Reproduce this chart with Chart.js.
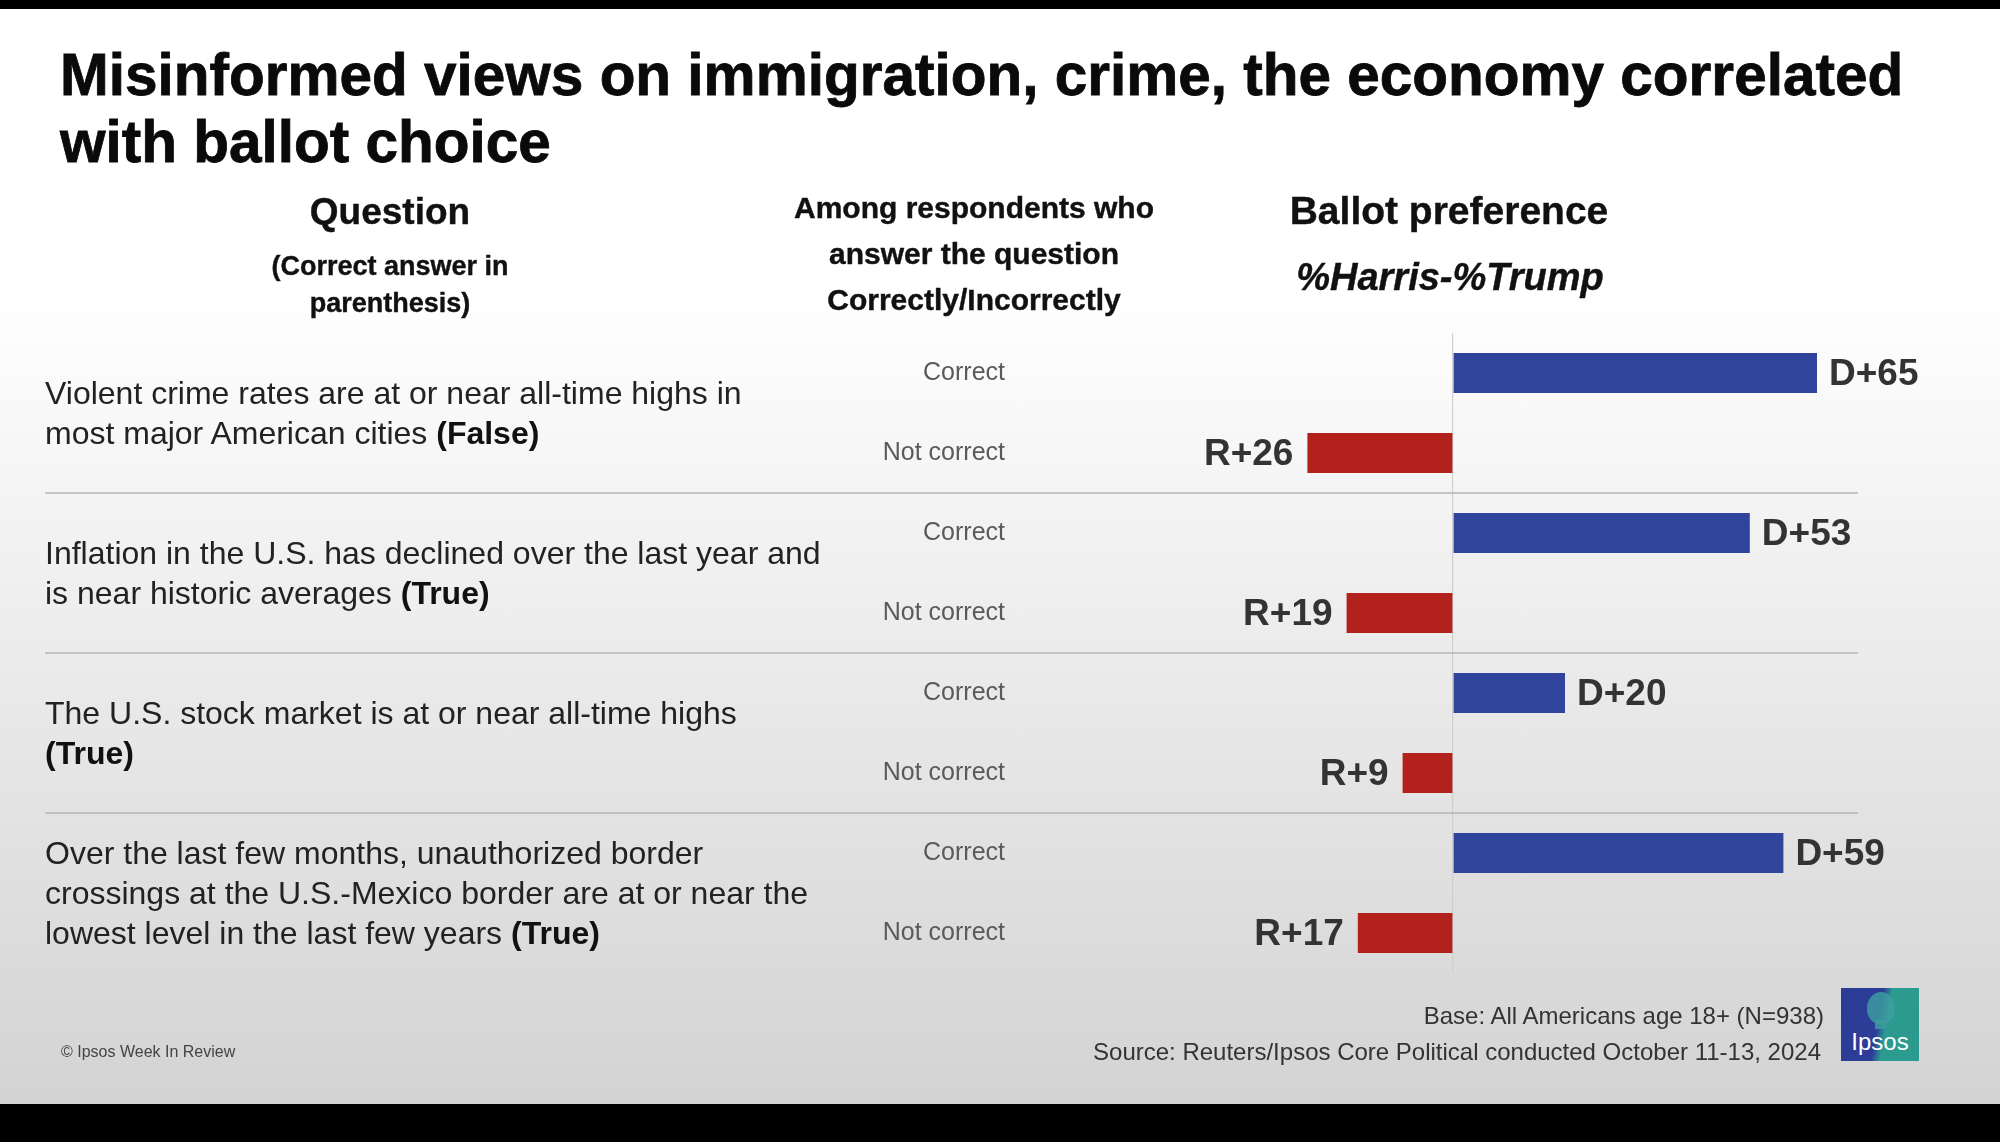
<!DOCTYPE html>
<html><head><meta charset="utf-8">
<script src="https://cdn.jsdelivr.net/npm/chart.js@4.4.0/dist/chart.umd.min.js"></script>
<style>
html,body{margin:0;padding:0;width:2000px;height:1142px;overflow:hidden;background:#000;font-family:'Liberation Sans',Arial,sans-serif;}
#panel{position:absolute;left:0;top:9px;width:2000px;height:1095px;background:linear-gradient(to bottom,#ffffff 0%,#ffffff 26%,#d3d3d3 100%);}
.t{position:absolute;white-space:nowrap;color:#111;}
.c{text-align:center;font-weight:700;-webkit-text-stroke:0.4px #111;}
.q{position:absolute;left:45px;white-space:nowrap;color:#222;font-size:32px;line-height:40px;}
.q b{color:#111;}
#logo{position:absolute;left:1841px;top:988px;width:78px;height:73px;overflow:hidden;background:linear-gradient(100deg,#2c3d98 0%,#2c3d98 47%,#2b9a8f 57%,#2b9a8f 100%);}
#logo .head{position:absolute;left:26px;top:4px;width:28px;height:32px;border-radius:50% 50% 45% 45%;background:#3d9fa0;opacity:.8;}
#logo .neck{position:absolute;left:34px;top:32px;width:11px;height:9px;background:#3d9fa0;opacity:.8;}
#logo span{position:absolute;left:0;width:78px;top:40px;text-align:center;color:#fff;font-size:24px;line-height:28px;}
</style></head><body>
<div id="panel"></div>
<canvas id="c" width="2000" height="1142" style="position:absolute;left:0;top:0;width:2000px;height:1142px"></canvas>

<div class="t" style="left:60px;top:41px;font-size:58.5px;line-height:67px;font-weight:700;color:#0a0a0a;-webkit-text-stroke:0.8px #0a0a0a;">Misinformed views on immigration, crime, the economy correlated<br>with ballot choice</div>

<div class="t c" style="left:190px;width:400px;top:189px;font-size:37px;line-height:45px;">Question</div>
<div class="t c" style="left:190px;width:400px;top:248px;font-size:27px;line-height:37px;">(Correct answer in<br>parenthesis)</div>
<div class="t c" style="left:724px;width:500px;top:185px;font-size:30px;line-height:46px;">Among respondents who<br>answer the question<br>Correctly/Incorrectly</div>
<div class="t c" style="left:1199px;width:500px;top:187px;font-size:39px;line-height:48px;">Ballot preference</div>
<div class="t c" style="left:1200px;width:500px;top:253px;font-size:38px;line-height:48px;font-style:italic;">%Harris-%Trump</div>

<div class="t" style="left:1024px;width:800px;text-align:right;top:1002px;font-size:24px;line-height:28px;color:#333;">Base: All Americans age 18+ (N=938)</div>
<div class="t" style="left:1021px;width:800px;text-align:right;top:1038px;font-size:24px;line-height:28px;color:#333;">Source: Reuters/Ipsos Core Political conducted October 11-13, 2024</div>
<div class="t" style="left:61px;top:1042px;font-size:16px;line-height:20px;color:#444;">© Ipsos Week In Review</div>

<div id="logo"><div class="head"></div><div class="neck"></div><span>Ipsos</span></div>

<script>
// ---- data ----
const categories = ["Correct","Not correct","Correct","Not correct","Correct","Not correct","Correct","Not correct"];
const margins = [65, -26, 53, -19, 20, -9, 59, -17];   // %Harris - %Trump
const questionLines = [
  ["Violent crime rates are at or near all-time highs in", "most major American cities"],
  ["Inflation in the U.S. has declined over the last year and", "is near historic averages"],
  ["The U.S. stock market is at or near all-time highs", ""],
  ["Over the last few months, unauthorized border", "crossings at the U.S.-Mexico border are at or near the", "lowest level in the last few years"]
];
const answers = ["False", "True", "True", "True"];

const BLUE = '#31449b', RED = '#b3211d';

Chart.defaults.font.family = "'Liberation Sans', Arial, sans-serif";

const separators = {
  id: 'separators',
  beforeDatasetsDraw(chart) {
    const y = chart.scales.y, ctx = chart.ctx;
    ctx.save();
    ctx.strokeStyle = '#b4b4b4';
    ctx.lineWidth = 1.5;
    for (let i = 1; i < categories.length - 1; i += 2) {
      const py = (y.getPixelForValue(i) + y.getPixelForValue(i + 1)) / 2;
      ctx.beginPath();
      ctx.moveTo(45, py);
      ctx.lineTo(1858, py);
      ctx.stroke();
    }
    ctx.restore();
  }
};

const valueLabels = {
  id: 'valueLabels',
  afterDatasetsDraw(chart) {
    const ctx = chart.ctx, meta = chart.getDatasetMeta(0);
    ctx.save();
    ctx.font = "bold 37px 'Liberation Sans', Arial, sans-serif";
    ctx.fillStyle = '#333';
    ctx.textBaseline = 'middle';
    meta.data.forEach((bar, i) => {
      const v = margins[i];
      if (v > 0) { ctx.textAlign = 'left'; ctx.fillText('D+' + v, bar.x + 12, bar.y + 2); }
      else { ctx.textAlign = 'right'; ctx.fillText('R+' + (-v), bar.x - 14, bar.y + 2); }
    });
    ctx.restore();
  }
};

const chart = new Chart(document.getElementById('c'), {
  type: 'bar',
  data: {
    labels: categories,
    datasets: [{
      data: margins,
      backgroundColor: margins.map(v => v > 0 ? BLUE : RED),
      barPercentage: 0.5,
      categoryPercentage: 1,
      borderWidth: 0
    }]
  },
  options: {
    indexAxis: 'y',
    responsive: false,
    animation: false,
    devicePixelRatio: 1,
    layout: { padding: { left: 805, right: 99, top: 333, bottom: 169 } },
    plugins: { legend: { display: false }, tooltip: { enabled: false }, title: { display: false } },
    scales: {
      x: {
        min: -80, max: 80,
        ticks: { display: false, stepSize: 20 },
        grid: { drawTicks: false, lineWidth: 1.2, color: c => (c.tick && c.tick.value === 0) ? '#cfcfcf' : 'rgba(0,0,0,0)' },
        border: { display: false },
        afterFit: s => { s.height = 0; }
      },
      y: {
        ticks: { color: '#5a5a5a', font: { size: 25 }, padding: 0 },
        grid: { display: false, drawTicks: false },
        border: { display: false },
        afterFit: s => { s.width = 200; }
      }
    }
  },
  plugins: [separators, valueLabels]
});

// question texts, centred on each pair of bars using the chart's y scale
const ys = chart.scales.y;
questionLines.forEach((lines, k) => {
  const mid = (ys.getPixelForValue(2 * k) + ys.getPixelForValue(2 * k + 1)) / 2;
  const div = document.createElement('div');
  div.className = 'q';
  const html = lines.map((l, j) => {
    const esc = l.replace(/&/g, '&amp;').replace(/</g, '&lt;');
    if (j === lines.length - 1) return (esc ? esc + ' ' : '') + '<b>(' + answers[k] + ')</b>';
    return esc;
  }).join('<br>');
  div.innerHTML = html;
  div.style.top = (mid - lines.length * 20) + 'px';
  document.body.appendChild(div);
});
</script>
</body></html>
